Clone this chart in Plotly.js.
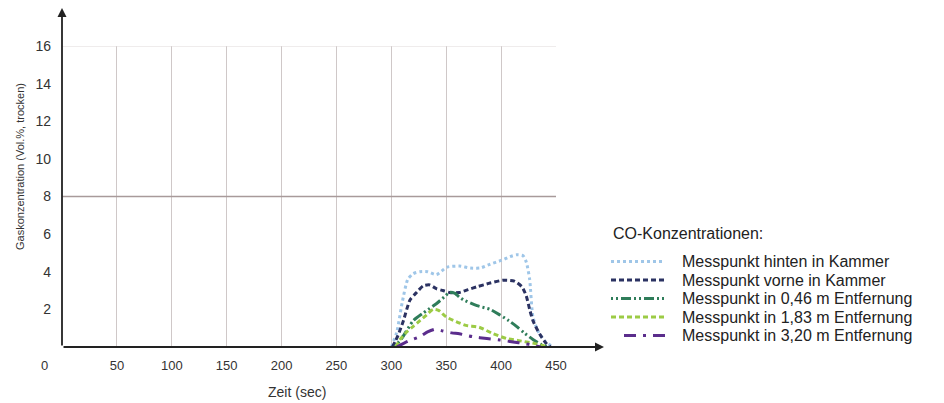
<!DOCTYPE html>
<html>
<head>
<meta charset="utf-8">
<script src="https://cdn.plot.ly/plotly-3.0.1.min.js"></script>
<style>html,body{margin:0;padding:0;background:#fff;}</style>
</head>
<body>
<div id="chart" style="width:944px;height:403px;"></div>
<script>
// Data
const seriesNames = [
  "Messpunkt hinten in Kammer",
  "Messpunkt vorne in Kammer",
  "Messpunkt in 0,46 m Entfernung",
  "Messpunkt in 1,83 m Entfernung",
  "Messpunkt in 3,20 m Entfernung"
];
const tHinten = [300, 305, 310, 315, 320, 326, 333, 341, 351, 362, 372, 381, 390, 400, 408, 414, 420, 423, 426, 429, 434, 440, 447];
const yHinten = [0, 0.8, 2.4, 3.6, 3.9, 4.0, 4.0, 3.85, 4.25, 4.3, 4.2, 4.2, 4.4, 4.6, 4.8, 4.9, 4.85, 4.5, 3.6, 1.6, 0.8, 0.3, 0];
const tVorne = [301, 306, 311, 317, 323, 329, 335, 341, 347, 353, 362, 370, 378, 390, 402, 412, 419, 423, 426, 429, 435, 441, 445];
const yVorne = [0, 0.6, 1.4, 2.5, 2.9, 3.25, 3.3, 3.1, 3.0, 2.9, 2.9, 3.05, 3.2, 3.4, 3.55, 3.5, 3.2, 2.7, 2.0, 1.4, 0.7, 0.2, 0];
const t046 = [303, 310, 320, 329, 341, 348, 353, 358, 362, 366, 378, 390, 399, 407, 414, 421, 429, 436, 442];
const y046 = [0, 0.5, 1.4, 1.8, 2.3, 2.65, 2.9, 2.85, 2.65, 2.5, 2.2, 2.0, 1.7, 1.4, 1.1, 0.75, 0.4, 0.15, 0];
const t183 = [304, 308, 314, 320, 326, 332, 338, 343, 350, 359, 368, 380, 393, 405, 415, 423, 431, 438, 442];
const y183 = [0, 0.4, 0.8, 1.1, 1.4, 1.7, 2.0, 1.95, 1.6, 1.35, 1.15, 1.05, 0.7, 0.45, 0.35, 0.27, 0.18, 0.08, 0];
const t320 = [305, 315, 326, 333, 340, 347, 355, 362, 374, 387, 399, 411, 421, 429, 436];
const y320 = [0, 0.3, 0.55, 0.8, 0.95, 0.85, 0.75, 0.7, 0.55, 0.45, 0.37, 0.27, 0.18, 0.1, 0];
const xTickVals = [50, 100, 150, 200, 250, 300, 350, 400, 450];
const yTickVals = [2, 4, 6, 8, 10, 12, 14, 16];
const legendTitle = "CO-Konzentrationen:";
const xTitle = "Zeit (sec)";
const yTitle = "Gaskonzentration (Vol.%, trocken)";

const FONT = "Liberation Sans, Arial, sans-serif";
const styles = [
  {color: "#9fc6e8", width: 3, dash: "dot"},
  {color: "#2b3262", width: 3, dash: "5px,3px"},
  {color: "#2f7d5a", width: 3, dash: "2px,3px,2px,3px,10px,3px"},
  {color: "#9ccb45", width: 3, dash: "5px,3px"},
  {color: "#5b2d8c", width: 3, dash: "12px,7px,3px,7px"}
];
const xs = [tHinten, tVorne, t046, t183, t320];
const ys = [yHinten, yVorne, y046, y183, y320];
const traces = seriesNames.map((n, i) => ({
  type: "scatter", mode: "lines", name: n, x: xs[i], y: ys[i],
  line: Object.assign({shape: "spline", smoothing: 0.6}, styles[i])
}));

// plot area: x pixels 62..556, y pixels 46..347
const px = p => (p - 62) / 494;
const py = p => (347 - p) / 301;
const rowY = [261.5, 280, 298.5, 317, 335.5];

const shapes = [
  {type: "line", xref: "x", yref: "y", x0: 0, x1: 450, y0: 8, y1: 8, line: {color: "#a89a9a", width: 1.3}},
  {type: "line", xref: "x", yref: "y", x0: 0, x1: 450, y0: 16, y1: 16, line: {color: "#e0dada", width: 1}}
];
const annotations = [
  {xref: "x", yref: "paper", x: 0, y: py(8), ax: 0, ay: 339, axref: "pixel", ayref: "pixel",
   showarrow: true, arrowhead: 2, arrowsize: 1, arrowwidth: 1.8, arrowcolor: "#222", text: ""},
  {xref: "paper", yref: "y", x: px(604), y: 0, ax: -542, ay: 0,
   showarrow: true, arrowhead: 2, arrowsize: 1, arrowwidth: 1.8, arrowcolor: "#222", text: ""},
  {xref: "paper", yref: "paper", x: px(44), y: py(365), xanchor: "center", yanchor: "middle",
   text: "0", showarrow: false, font: {size: 13, color: "#333"}},
  {xref: "paper", yref: "paper", x: px(297), y: py(392), xanchor: "center", yanchor: "middle",
   text: xTitle, showarrow: false, font: {size: 14, color: "#333"}},
  {xref: "paper", yref: "paper", x: px(20), y: py(167), xanchor: "center", yanchor: "middle", textangle: -90,
   text: yTitle, showarrow: false, font: {size: 11, color: "#333"}},
  {xref: "paper", yref: "paper", x: px(611), y: py(233), xanchor: "left", yanchor: "middle",
   text: legendTitle, showarrow: false, font: {size: 16, color: "#222"}}
];
seriesNames.forEach((n, i) => {
  annotations.push({xref: "paper", yref: "paper", x: px(681), y: py(rowY[i]), xanchor: "left", yanchor: "middle",
    text: n, showarrow: false, borderpad: 0, font: {size: 16, color: "#222"}});
  shapes.push({type: "line", xref: "paper", yref: "paper", x0: px(i === 4 ? 624 : 611), x1: px(665),
    y0: py(rowY[i]), y1: py(rowY[i]), line: {color: styles[i].color, width: styles[i].width, dash: styles[i].dash}});
});

const layout = {
  width: 944, height: 403,
  margin: {l: 62, r: 388, t: 46, b: 56},
  paper_bgcolor: "#ffffff", plot_bgcolor: "#ffffff",
  font: {family: FONT, size: 12, color: "#333"},
  showlegend: false,
  xaxis: {
    range: [0, 450], tickvals: xTickVals, ticktext: xTickVals.map(String),
    showgrid: true, gridcolor: "#cfc8c8", gridwidth: 1,
    zeroline: false, showline: false, ticks: "", ticklabelstandoff: 9,
    tickfont: {size: 13, color: "#333"}
  },
  yaxis: {
    range: [0, 16], tickvals: yTickVals, ticktext: yTickVals.map(String),
    showgrid: false, zeroline: false, showline: false, ticks: "", ticklabelstandoff: 10,
    tickfont: {size: 14, color: "#333"}
  },
  shapes: shapes,
  annotations: annotations
};

Plotly.newPlot("chart", traces, layout, {displayModeBar: false, staticPlot: true});
</script>
</body>
</html>
